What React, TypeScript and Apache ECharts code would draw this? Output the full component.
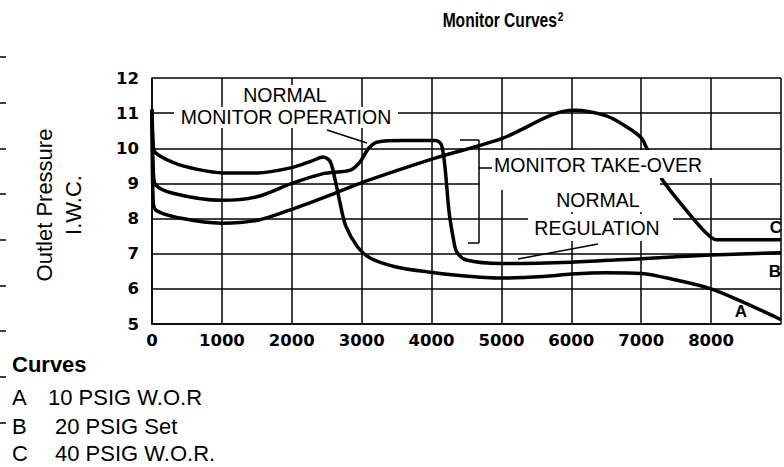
import React, { useEffect, useRef } from "react";
import * as echarts from "echarts";

// ---- data ----
const xTickValues = [0, 1000, 2000, 3000, 4000, 5000, 6000, 7000, 8000];
const yTickValues = [5, 6, 7, 8, 9, 10, 11, 12];

// Curve A: 10 PSIG W.O.R
const curveA: number[][] = [
  [0, 11.1], [15, 10.2], [40, 9.9], [300, 9.6], [650, 9.4], [1030, 9.3], [1500, 9.3],
  [2000, 9.45], [2300, 9.65], [2450, 9.75], [2550, 9.62], [2620, 9.1], [2690, 8.45],
  [2770, 7.8], [2940, 7.2], [3120, 6.88], [3480, 6.63], [3950, 6.48], [4400, 6.38],
  [5000, 6.31], [5600, 6.35], [6000, 6.42], [6500, 6.46], [7000, 6.44], [7500, 6.25],
  [8000, 6.0], [8450, 5.63], [8920, 5.2], [9000, 5.12],
];
// Curve B: 20 PSIG Set
const curveB: number[][] = [
  [0, 11.1], [15, 9.6], [40, 9.0], [300, 8.72], [1000, 8.52], [1500, 8.62], [2000, 9.0],
  [2450, 9.28], [2840, 9.38], [2980, 9.62], [3100, 10.0], [3230, 10.18], [3600, 10.22],
  [4060, 10.22], [4140, 10.1], [4190, 9.5], [4250, 8.2], [4310, 7.45], [4360, 7.05],
  [4500, 6.82], [5000, 6.72], [6000, 6.76], [7000, 6.86], [8000, 6.96], [9000, 7.03],
];
// Curve C: 40 PSIG W.O.R.
const curveC: number[][] = [
  [0, 11.1], [15, 8.6], [50, 8.25], [440, 8.0], [1000, 7.87], [1530, 7.96], [2050, 8.3],
  [2615, 8.72], [3040, 9.05], [4050, 9.72], [5020, 10.29], [5720, 10.95], [6040, 11.08],
  [6500, 10.92], [6800, 10.6], [7000, 10.3], [7070, 10.04], [7280, 9.17], [7660, 8.2],
  [7930, 7.59], [8070, 7.4], [9000, 7.4],
];

const legendRows = [
  { key: "A", text: "10 PSIG W.O.R" },
  { key: "B", text: "20 PSIG Set" },
  { key: "C", text: "40 PSIG W.O.R." },
];

const FONT = "'Liberation Sans', Arial, sans-serif";
const TICK_FONT = "'DejaVu Sans', sans-serif";

function App() {
  const ref = useRef<HTMLDivElement>(null);
  useEffect(() => {
    if (!ref.current) return;
    const chart = echarts.init(ref.current, undefined, { renderer: "svg" });

    const box = (x: number, y: number, w: number, h: number) => ({
      type: "rect", z: 100, shape: { x, y, width: w, height: h }, style: { fill: "#fff" },
    });
    const txt = (x: number, y: number, text: string, size: number, opts: any = {}) => ({
      type: "text", z: 110, x, y,
      style: {
        text, fontFamily: FONT, fontSize: size, fill: "#000",
        textAlign: opts.align || "left", textVerticalAlign: "middle",
        fontWeight: opts.weight || "normal",
      },
    });
    const ln = (x1: number, y1: number, x2: number, y2: number, w = 1.5) => ({
      type: "line", z: 110, shape: { x1, y1, x2, y2 }, style: { stroke: "#000", lineWidth: w },
    });

    const dashes = [57, 103, 149, 194, 240, 286, 331, 377, 423].map((y) => ln(0, y, 6, y, 1.5));

    const legend: any[] = [txt(12, 364, "Curves", 22, { weight: "bold" })];
    const rowY = [397, 426, 453];
    const textX = [48, 55, 55];
    legendRows.forEach((r, i) => {
      legend.push(txt(12, rowY[i], r.key, 22));
      legend.push(txt(textX[i], rowY[i], r.text, 22));
    });

    const option: any = {
      animation: false,
      backgroundColor: "#fff",
      grid: { left: 152, top: 78, width: 637, height: 246, containLabel: false },
      xAxis: {
        type: "value", min: 0, max: 9000, interval: 1000,
        axisLine: { show: true, lineStyle: { color: "#000", width: 1.5 } },
        axisTick: { show: false },
        splitLine: { show: true, lineStyle: { color: "#000", width: 1.5 } },
        axisLabel: {
          color: "#000", fontFamily: TICK_FONT, fontWeight: "bold", fontSize: 16.5, margin: 8,
          formatter: (v: number) => (xTickValues.indexOf(v) >= 0 ? String(v) : ""),
        },
      },
      yAxis: {
        type: "value", min: 5, max: 12, interval: 1,
        axisLine: { show: true, onZero: false, lineStyle: { color: "#000", width: 1.5 } },
        axisTick: { show: false },
        splitLine: { show: true, lineStyle: { color: "#000", width: 1.5 } },
        axisLabel: {
          color: "#000", fontFamily: TICK_FONT, fontWeight: "bold", fontSize: 16.5, margin: 13,
          formatter: (v: number) => (yTickValues.indexOf(v) >= 0 ? String(v) : ""),
        },
      },
      series: [
        { name: "A", type: "line", data: curveA },
        { name: "B", type: "line", data: curveB },
        { name: "C", type: "line", data: curveC },
      ].map((s) => ({
        ...s, showSymbol: false, smooth: 0.3, z: 2, clip: false,
        lineStyle: { color: "#000", width: 3.5 },
      })),
      graphic: {
        elements: [
          // white label boxes
          box(240, 85, 91, 22),
          box(174, 107, 224, 21),
          box(480, 150, 236, 28),
          box(480, 178, 180, 12),
          box(553, 190, 91, 22),
          box(528, 214, 145, 27),
          // annotations
          txt(285, 95, "NORMAL", 19.5, { align: "center" }),
          txt(286, 117, "MONITOR OPERATION", 19.5, { align: "center" }),
          ln(327, 130, 367, 143),
          txt(494, 164.5, "MONITOR TAKE-OVER", 19.5),
          ln(460, 140, 479, 140),
          ln(479, 140, 479, 243),
          ln(468, 243, 479, 243),
          ln(479, 168, 492, 168),
          txt(598, 200, "NORMAL", 19.5, { align: "center" }),
          txt(597, 228, "REGULATION", 19.5, { align: "center" }),
          ln(518, 259, 598, 244),
          txt(776, 227, "C", 17, { align: "center", weight: "bold" }),
          txt(775, 271, "B", 17, { align: "center", weight: "bold" }),
          txt(741, 311, "A", 17, { align: "center", weight: "bold" }),
          // title (condensed bold)
          {
            type: "text", z: 110, x: 503, y: 20, scaleX: 0.78,
            style: {
              text: "{t|Monitor Curves}{s|2}",
              textAlign: "center", textVerticalAlign: "middle",
              rich: {
                t: { fontFamily: FONT, fontWeight: "bold", fontSize: 20, fill: "#000" },
                s: { fontFamily: FONT, fontWeight: "bold", fontSize: 13, fill: "#000", verticalAlign: "top", padding: [0, 0, 8, 1] },
              },
            },
          },
          // axis name
          {
            type: "text", z: 110, x: 59, y: 205, rotation: Math.PI / 2,
            style: {
              text: "Outlet Pressure\nI.W.C.", fontFamily: FONT, fontSize: 22, fill: "#000",
              textAlign: "center", textVerticalAlign: "middle", lineHeight: 29,
            },
          },
          ...dashes,
          ...legend,
        ],
      },
    };
    chart.setOption(option);
    return () => chart.dispose();
  }, []);
  return (
    <div
      ref={ref}
      style={{ position: "fixed", left: 0, top: 0, width: 784, height: 467, background: "#fff" }}
    />
  );
}

export default App;
